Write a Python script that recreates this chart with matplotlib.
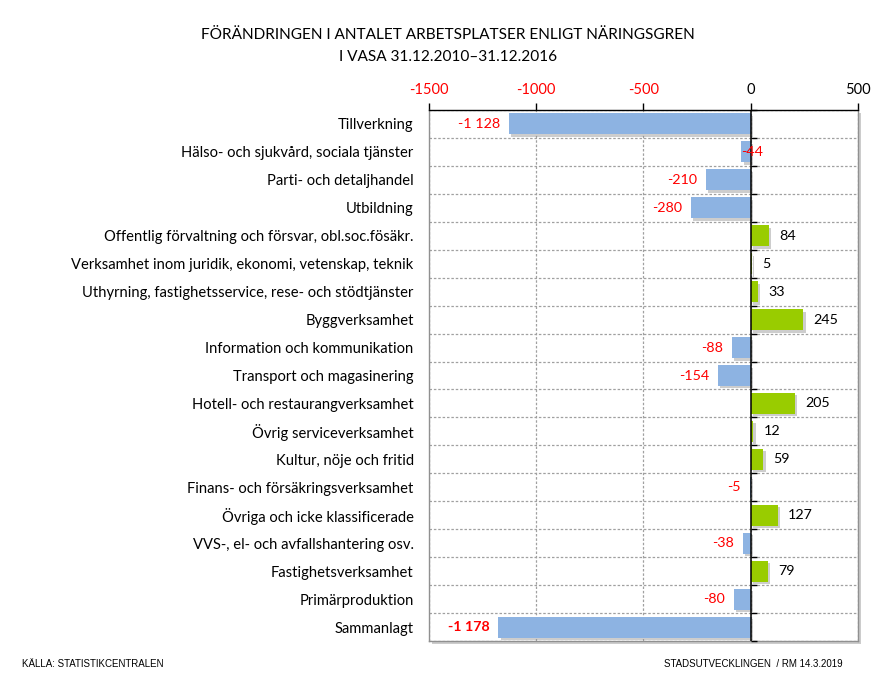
import numpy as np
import matplotlib.pyplot as plt
import matplotlib.patheffects as pe
from matplotlib.patches import Rectangle

plt.rcParams['font.family'] = ['Lato', 'DejaVu Sans']

# Data
categories = [
    'Tillverkning',
    'Hälso- och sjukvård, sociala tjänster',
    'Parti- och detaljhandel',
    'Utbildning',
    'Offentlig förvaltning och försvar, obl.soc.fösäkr.',
    'Verksamhet inom juridik, ekonomi, vetenskap, teknik',
    'Uthyrning, fastighetsservice, rese- och stödtjänster',
    'Byggverksamhet',
    'Information och kommunikation',
    'Transport och magasinering',
    'Hotell- och restaurangverksamhet',
    'Övrig serviceverksamhet',
    'Kultur, nöje och fritid',
    'Finans- och försäkringsverksamhet',
    'Övriga och icke klassificerade',
    'VVS-, el- och avfallshantering osv.',
    'Fastighetsverksamhet',
    'Primärproduktion',
    'Sammanlagt',
]
changes = [-1128, -44, -210, -280, 84, 5, 33, 245, -88, -154,
           205, 12, 59, -5, 127, -38, 79, -80, -1178]
xticks = [-1500, -1000, -500, 0, 500]

blue = '#8db3e2'
green = '#99cc00'
red = '#ff0000'


def fmt(v):
    s = f"{abs(v):,}".replace(',', ' ')
    return ('-' if v < 0 else '') + s


fig = plt.figure(figsize=(8.76, 6.73), dpi=100)
rect = [0.4897, 0.0475, 0.4897, 0.7891]
ax = fig.add_axes(rect)

n = len(categories)
y = np.arange(n)
colors = [blue if v < 0 else green for v in changes]
shadow = [pe.SimplePatchShadow(offset=(1.8, -1.8), shadow_rgbFace='#909090', alpha=0.45), pe.Normal()]
bars = ax.barh(y, changes, height=0.75, color=colors, zorder=3)
for b in bars:
    b.set_path_effects(shadow)

ax.set_xlim(-1500, 500)
ax.set_ylim(n - 0.5, -0.5)

# top axis
ax.xaxis.tick_top()
ax.set_xticks(xticks)
ax.set_xticklabels([str(t) for t in xticks])
for lbl, t in zip(ax.get_xticklabels(), xticks):
    lbl.set_color(red if t < 0 else 'black')
ax.tick_params(axis='x', direction='out', length=5, pad=4, labelsize=10.5, width=1)

ax.set_yticks(y)
ax.set_yticklabels(categories)
ax.tick_params(axis='y', length=0, pad=11, labelsize=10.6)

# grid
ax.set_yticks(np.arange(n + 1) - 0.5, minor=True)
ax.tick_params(axis='y', which='minor', length=0)
ax.grid(True, which='minor', axis='y', linestyle=(0, (2, 1.5)), color='#a0a0a0', linewidth=0.9, zorder=0)
ax.grid(True, which='major', axis='x', linestyle=(0, (2, 1.5)), color='#a0a0a0', linewidth=0.9, zorder=0)
ax.grid(False, which='major', axis='y')
ax.axvline(0, color='black', linewidth=1.1, zorder=4)

for s in ax.spines.values():
    s.set_color('#909090')
    s.set_linewidth(1)
ax.spines['top'].set_color('black')

# small ticks along the zero line
ax0 = fig.add_axes(rect, frameon=False)
ax0.set_xlim(-1500, 500)
ax0.set_ylim(n - 0.5, -0.5)
ax0.patch.set_visible(False)
for k in ['top', 'right', 'bottom']:
    ax0.spines[k].set_visible(False)
ax0.spines['left'].set_visible(True)
ax0.spines['left'].set_position(('data', 0))
ax0.spines['left'].set_color('black')
ax0.spines['left'].set_linewidth(1.1)
ax0.set_xticks([])
ax0.set_yticks(np.arange(n + 1) - 0.5)
ax0.tick_params(axis='y', direction='in', length=4, labelleft=False, width=1)

# value labels
for i, v in enumerate(changes):
    bold = categories[i] == 'Sammanlagt'
    if v < 0:
        if v == -44:
            ax.text(v, i, fmt(v), ha='left', va='center', color=red, fontsize=10.3, zorder=5)
        else:
            ax.text(v - 40, i, fmt(v), ha='right', va='center', color=red, fontsize=10.3,
                    fontweight='bold' if bold else 'normal', zorder=5)
    else:
        ax.text(v + 48, i, fmt(v), ha='left', va='center', color='black', fontsize=10.3, zorder=5)

# plot area shadow
fig.patches.append(Rectangle((rect[0] + 0.004, rect[1] - 0.005), rect[2], rect[3],
                             transform=fig.transFigure, facecolor='#cccccc', edgecolor='none', zorder=-1))
ax.set_facecolor('white')

fig.text(0.511, 0.948, 'FÖRÄNDRINGEN I ANTALET ARBETSPLATSER ENLIGT NÄRINGSGREN',
         ha='center', va='center', fontsize=11.1)
fig.text(0.511, 0.915, 'I VASA 31.12.2010–31.12.2016', ha='center', va='center', fontsize=11.1)

fig.text(0.025, 0.014, 'KÄLLA: STATISTIKCENTRALEN', ha='left', va='center', fontsize=7,
         family=['Liberation Sans', 'DejaVu Sans'])
fig.text(0.962, 0.014, 'STADSUTVECKLINGEN  / RM 14.3.2019', ha='right', va='center', fontsize=7,
         family=['Liberation Sans', 'DejaVu Sans'])

fig.savefig('out.png', dpi=100)
